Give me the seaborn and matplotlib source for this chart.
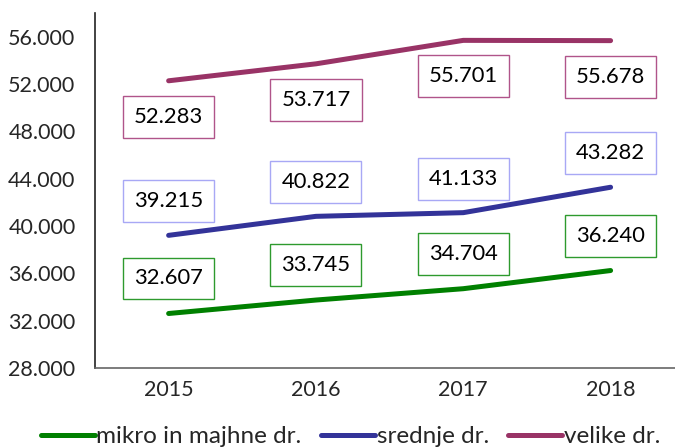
import matplotlib
matplotlib.use("Agg")
import matplotlib.pyplot as plt
import matplotlib.ticker as mticker
import seaborn as sns
import pandas as pd

# data
years = ["2015", "2016", "2017", "2018"]
mikro = [32607, 33745, 34704, 36240]
srednje = [39215, 40822, 41133, 43282]
velike = [52283, 53717, 55701, 55678]
series_names = ["mikro in majhne dr.", "srednje dr.", "velike dr."]

colors = ["#008000", "#333399", "#993366"]
box_edges = ["#2e9a2e", "#a8a8f5", "#b0548a"]
label_offsets = [35, 34, -36]  # pixels, label box centre relative to point

sns.set_theme(style="white")
plt.rcParams["font.family"] = ["Lato", "DejaVu Sans"]

df = pd.DataFrame({
    "leto": years * 3,
    "vrednost": mikro + srednje + velike,
    "skupina": [n for n in series_names for _ in years],
})

fig = plt.figure(figsize=(6.75, 4.48), dpi=100)
ax = fig.add_axes([0.1407, 0.1786, 0.873, 0.792])

sns.lineplot(data=df, x="leto", y="vrednost", hue="skupina",
             palette=colors, linewidth=3.6, ax=ax, legend=True,
             solid_capstyle="round")

for vals, col, edge, off in zip([mikro, srednje, velike], colors, box_edges, label_offsets):
    for i, v in enumerate(vals):
        ax.annotate(f"{v/1000:.3f}", (i, v), xytext=(0, off),
                    textcoords="offset pixels", ha="center", va="center",
                    fontsize=15.8, color="black",
                    bbox=dict(boxstyle="square,pad=0.5", fc="white",
                              ec=edge, lw=1.0))

ax.set_xlim(-0.5, 3.5)
ax.set_ylim(28000, 58000)
ax.set_yticks(range(28000, 56001, 4000))
ax.yaxis.set_major_formatter(mticker.FuncFormatter(lambda v, p: f"{int(v):,}".replace(",", ".")))

ax.set_xticks([-0.5, 0.5, 1.5, 2.5, 3.5])
ax.set_xticklabels([])
ax.set_xticks(range(4), minor=True)
ax.set_xticklabels(years, minor=True)
ax.tick_params(axis="x", which="minor", length=0, pad=9, labelsize=15.5)
ax.tick_params(axis="x", which="major", length=6, width=1, color="#555555", direction="out")
ax.tick_params(axis="y", length=6, width=1, color="#555555", direction="out", pad=8, labelsize=15.5)

ax.set_xlabel("")
ax.set_ylabel("")
for s in ["top", "right"]:
    ax.spines[s].set_visible(False)
ax.spines["left"].set_color("#222222")
ax.spines["bottom"].set_color("#666666")
for s in ["left", "bottom"]:
    ax.spines[s].set_linewidth(1.2)

leg = ax.legend(loc="center left", bbox_to_anchor=(-0.108, -0.194), ncol=3,
                frameon=False, fontsize=17.5, handlelength=2.2,
                handletextpad=0.08, columnspacing=0.8, borderaxespad=0)
for h in leg.get_lines():
    h.set_linewidth(3.6)

fig.savefig("out.png", dpi=100)
